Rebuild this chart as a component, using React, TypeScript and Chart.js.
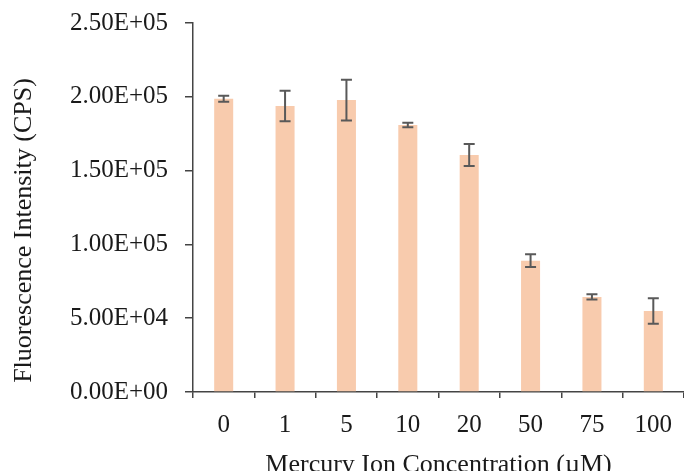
import React, { useEffect, useRef } from "react";
import { Chart, registerables } from "chart.js";

Chart.register(...registerables);

const categories = ["0", "1", "5", "10", "20", "50", "75", "100"];
const intensity = [198700, 193800, 197800, 180900, 160600, 89000, 64400, 54900];
const errors = [2000, 10300, 13800, 1500, 7500, 4300, 1800, 8700];
const yTickValues = [0, 50000, 100000, 150000, 200000, 250000];
const xTitle = "Mercury Ion Concentration (\u00B5M)";
const yTitle = "Fluorescence Intensity (CPS)";

const FONT = "'Liberation Serif', 'Times New Roman', serif";
const TEXT = "#1a1a1a";
const AXIS = "#444444";

function sci(v: number): string {
  const [m, e] = v.toExponential(2).split("e");
  const sign = e[0] === "-" ? "-" : "+";
  const digits = e.replace(/[+-]/, "").padStart(2, "0");
  return `${m}E${sign}${digits}`;
}

const errorBarPlugin = {
  id: "errorBars",
  afterDatasetsDraw(chart: any) {
    const { ctx } = chart;
    const meta = chart.getDatasetMeta(0);
    const y = chart.scales.y;
    ctx.save();
    ctx.strokeStyle = "#595959";
    ctx.lineWidth = 2;
    meta.data.forEach((bar: any, i: number) => {
      const x = bar.x;
      const yT = y.getPixelForValue(intensity[i] + errors[i]);
      const yB = y.getPixelForValue(intensity[i] - errors[i]);
      const cap = 5.5;
      ctx.beginPath();
      ctx.moveTo(x, yT);
      ctx.lineTo(x, yB);
      ctx.moveTo(x - cap, yT);
      ctx.lineTo(x + cap, yT);
      ctx.moveTo(x - cap, yB);
      ctx.lineTo(x + cap, yB);
      ctx.stroke();
    });
    ctx.restore();
  },
};

const titlesPlugin = {
  id: "axisTitles",
  afterDraw(chart: any) {
    const { ctx, chartArea } = chart;
    ctx.save();
    ctx.fillStyle = TEXT;
    ctx.font = `26px ${FONT}`;
    ctx.textAlign = "center";
    ctx.textBaseline = "alphabetic";
    ctx.fillText(xTitle, (chartArea.left + chartArea.right) / 2, chartArea.bottom + 80);
    ctx.translate(31, (chartArea.top + chartArea.bottom) / 2 + 23);
    ctx.rotate(-Math.PI / 2);
    ctx.fillText(yTitle, 0, 0);
    ctx.restore();
  },
};

export default function App() {
  const ref = useRef<HTMLCanvasElement | null>(null);
  useEffect(() => {
    if (!ref.current) return;
    const chart = new Chart(ref.current, {
      type: "bar",
      data: {
        labels: categories,
        datasets: [
          {
            data: intensity,
            backgroundColor: "#F8CBAD",
            borderWidth: 0,
            categoryPercentage: 1,
            barPercentage: 0.31,
          },
        ],
      },
      options: {
        animation: false,
        responsive: false,
        layout: { padding: { top: 23, left: 0, right: 0, bottom: 0 } },
        plugins: {
          legend: { display: false },
          tooltip: { enabled: false },
        },
        scales: {
          x: {
            afterFit: (s: any) => {
              s.height = 471 - 392;
              s.paddingLeft = 0;
              s.paddingRight = 0;
            },
            grid: {
              display: true,
              drawOnChartArea: false,
              drawTicks: true,
              tickLength: 6,
              color: AXIS,
              lineWidth: 1.5,
              offset: true,
            },
            border: { display: true, color: AXIS, width: 1.5 },
            ticks: {
              color: TEXT,
              font: { family: FONT, size: 25 },
              padding: 12,
              maxRotation: 0,
            },
          },
          y: {
            min: 0,
            max: 250000,
            afterFit: (s: any) => {
              s.width = 193;
              s.paddingTop = 0;
              s.paddingBottom = 0;
            },
            afterBuildTicks: (s: any) => {
              s.ticks = yTickValues.map((v) => ({ value: v }));
            },
            grid: {
              display: true,
              drawOnChartArea: false,
              drawTicks: true,
              tickLength: 8,
              color: AXIS,
              lineWidth: 1.5,
            },
            border: { display: true, color: AXIS, width: 1.5 },
            ticks: {
              color: TEXT,
              font: { family: FONT, size: 25 },
              padding: 17,
              callback: (v: any) => sci(Number(v)),
            },
          },
        },
      },
      plugins: [errorBarPlugin, titlesPlugin],
    });
    return () => chart.destroy();
  }, []);
  return (
    <div style={{ position: "absolute", left: 0, top: 0, width: 684, height: 471, overflow: "hidden", background: "#fff" }}>
      <canvas ref={ref} width={684} height={471} />
    </div>
  );
}
